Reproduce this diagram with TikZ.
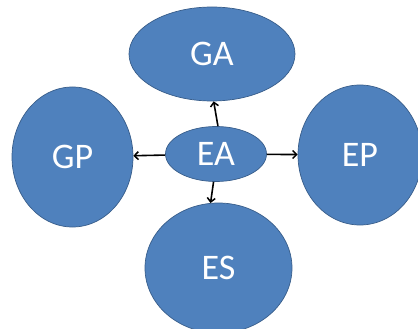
\documentclass[tikz,border=0pt]{standalone}
\usepackage{fontspec}
\setmainfont{Carlito}
\usetikzlibrary{shapes.geometric,arrows.meta}
\definecolor{fillblue}{HTML}{4F81BD}
\definecolor{edgeblue}{HTML}{385D8A}
\begin{document}
\begin{tikzpicture}[x=1pt,y=-1pt,
 bubble/.style={ellipse,fill=fillblue,draw=edgeblue,line width=0.7pt,inner sep=0pt,text=white,font=\fontsize{36}{36}\selectfont},
 link/.style={-{Straight Barb[length=4pt,width=8pt,line width=1.5pt]},line width=1.6pt,black}]
\useasboundingbox (0,0) rectangle (418,329);
\node[bubble,minimum width=166pt,minimum height=94pt] (GA) at (212,54) {GA};
\node[bubble,minimum width=121pt,minimum height=140pt] (GP) at (72.5,157) {GP};
\node[bubble,minimum width=124pt,minimum height=140pt] (EP) at (360,155) {EP};
\node[bubble,minimum width=147pt,minimum height=130pt] (ES) at (218.5,268) {ES};
\node[bubble,minimum width=101pt,minimum height=55pt] (EA) at (216,154) {EA};
\draw[link] (EA.86) -- (GA.272);
\draw[link] (EA) -- (GP);
\draw[link] (EA) -- (EP);
\draw[link] (EA.265) -- (ES.97);
\end{tikzpicture}
\end{document}
